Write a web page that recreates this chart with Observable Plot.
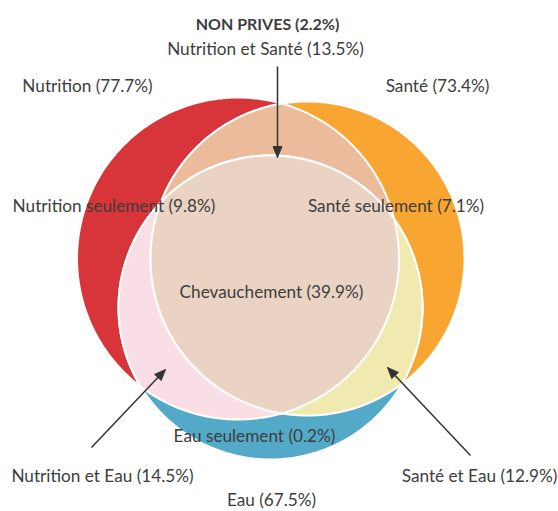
<!DOCTYPE html>
<html>
<head>
<meta charset="utf-8">
<script src="https://cdn.jsdelivr.net/npm/d3@7"></script>
<script src="https://cdn.jsdelivr.net/npm/@observablehq/plot@0.6"></script>
<style>
  html, body { margin: 0; padding: 0; background: #fff; }
  #chart { width: 558px; height: 511px; }
</style>
</head>
<body>
<div id="chart"></div>
<script>
// ---------------- DATA ----------------
const setNames = ["Nutrition", "Santé", "Eau"];
const setValues = [77.7, 73.4, 67.5];

const regionNames = ["Nutrition seulement", "Santé seulement", "Eau seulement",
  "Nutrition et Santé", "Nutrition et Eau", "Santé et Eau", "Chevauchement"];
const regionValues = [9.8, 7.1, 0.2, 13.5, 14.5, 12.9, 39.9];

const noneName = "NON PRIVES";
const noneValue = 2.2;

// ---------------- LAYOUT (pixel space of the diagram) ----------------
const W = 558, H = 511;
// circles, same order as setNames: cx, cy, r
const circleLayout = [[237.5, 258, 161], [307, 258, 157], [270, 307, 152]];
// label anchors, same order as setNames / regionNames
const setLabelPos = [[87, 86], [437, 86], [271, 500]];
const regionLabelPos = [[113.5, 206], [395.5, 206], [254, 436], [265, 49], [102, 476], [479, 476], [271, 292]];
const nonePos = [267, 24];
const arrowLayout = [[[277, 66], [277, 157]], [[91, 447], [165, 369]], [[470, 455], [387, 367]]];

const setColors = ["#d8353a", "#f8a532", "#53aac8"];
// pairwise overlaps (N&S, N&E, S&E) and triple overlap
const overlapColors = ["#ecbb9c", "#fadee5", "#f0eab0", "#ead3c3"];

// ---------------- GEOMETRY HELPERS ----------------
function circlePoly(c) {
  const n = 480;
  const out = [];
  for (let i = 0; i < n; i++) {
    const a = 2 * Math.PI * i / n;
    out.push([c[0] + c[2] * Math.cos(a), c[1] + c[2] * Math.sin(a)]);
  }
  return out;
}
function intersectLines(P, Q, a, b) {
  const rx = Q[0] - P[0], ry = Q[1] - P[1];
  const sx = b[0] - a[0], sy = b[1] - a[1];
  const den = rx * sy - ry * sx;
  const t = ((a[0] - P[0]) * sy - (a[1] - P[1]) * sx) / den;
  return [P[0] + t * rx, P[1] + t * ry];
}
function polyArea(p) {
  let s = 0;
  for (let i = 0; i < p.length; i++) {
    const a = p[i], b = p[(i + 1) % p.length];
    s += a[0] * b[1] - b[0] * a[1];
  }
  return s / 2;
}
function clip(subject, clipper) {
  let out = subject;
  const s = Math.sign(polyArea(clipper));
  for (let i = 0; i < clipper.length; i++) {
    const a = clipper[i], b = clipper[(i + 1) % clipper.length];
    const inside = p => s * ((b[0] - a[0]) * (p[1] - a[1]) - (b[1] - a[1]) * (p[0] - a[0])) >= 0;
    const input = out; out = [];
    for (let j = 0; j < input.length; j++) {
      const P = input[j], Q = input[(j + 1) % input.length];
      const pin = inside(P), qin = inside(Q);
      if (pin) out.push(P);
      if (pin !== qin) out.push(intersectLines(P, Q, a, b));
    }
    if (!out.length) break;
  }
  return out;
}
function toRows(poly, id) {
  const rows = poly.map(p => ({x: p[0], y: p[1], id}));
  rows.push({x: poly[0][0], y: poly[0][1], id});
  return rows;
}

const CN = circlePoly(circleLayout[0]);
const CS = circlePoly(circleLayout[1]);
const CE = circlePoly(circleLayout[2]);

// painter's order: full sets, then pairwise overlaps, then triple overlap
const shapes = [
  {poly: CN, color: setColors[0]},
  {poly: CS, color: setColors[1]},
  {poly: CE, color: setColors[2]},
  {poly: clip(CN, CS), color: overlapColors[0]},
  {poly: clip(CN, CE), color: overlapColors[1]},
  {poly: clip(CS, CE), color: overlapColors[2]},
  {poly: clip(clip(CN, CS), CE), color: overlapColors[3]}
];

const fmt = v => v.toFixed(1) + "%";
const labels = [];
setNames.forEach((n, i) => labels.push({text: n + " (" + fmt(setValues[i]) + ")", x: setLabelPos[i][0], y: setLabelPos[i][1]}));
regionNames.forEach((n, i) => labels.push({text: n + " (" + fmt(regionValues[i]) + ")", x: regionLabelPos[i][0], y: regionLabelPos[i][1]}));
const boldLabels = [{text: noneName + " (" + fmt(noneValue) + ")", x: nonePos[0], y: nonePos[1]}];

// arrows: shaft + filled head
const headLen = 11, headHalf = 4.5;
const shafts = [], heads = [];
arrowLayout.forEach((a, i) => {
  const x1 = a[0][0], y1 = a[0][1], x2 = a[1][0], y2 = a[1][1];
  const L = Math.hypot(x2 - x1, y2 - y1);
  const ux = (x2 - x1) / L, uy = (y2 - y1) / L;
  const bx = x2 - ux * headLen, by = y2 - uy * headLen;
  shafts.push({x1, y1, x2: bx + ux, y2: by + uy});
  toRows([[x2, y2], [bx - uy * headHalf, by + ux * headHalf], [bx + uy * headHalf, by - ux * headHalf]], i)
    .forEach(r => heads.push(r));
});

const marks = shapes.map(s => Plot.line(toRows(s.poly, 0), {
  x: "x", y: "y", fill: s.color, stroke: "white", strokeWidth: 2, curve: "linear"
}));

marks.push(
  Plot.link(shafts, {x1: "x1", y1: "y1", x2: "x2", y2: "y2", stroke: "#333", strokeWidth: 1.5}),
  Plot.line(heads, {x: "x", y: "y", z: "id", fill: "#333", stroke: "#333", strokeWidth: 1}),
  Plot.text(labels, {x: "x", y: "y", text: "text", fill: "#3d3d3d", fontSize: 17.2, textAnchor: "middle", lineAnchor: "middle"}),
  Plot.text(boldLabels, {x: "x", y: "y", text: "text", fill: "#3d3d3d", fontSize: 16, fontWeight: "bold", textAnchor: "middle", lineAnchor: "middle"})
);

try {
  const chart = Plot.plot({
    width: W, height: H, margin: 0,
    x: {domain: [0, W], range: [0, W], axis: null},
    y: {domain: [0, H], range: [0, H], axis: null},
    style: {fontFamily: "Lato, 'Open Sans', sans-serif", background: "white"},
    marks
  });
  document.getElementById("chart").appendChild(chart);
} catch (e) {
  document.getElementById("chart").textContent = e.stack;
}
</script>
</body>
</html>
